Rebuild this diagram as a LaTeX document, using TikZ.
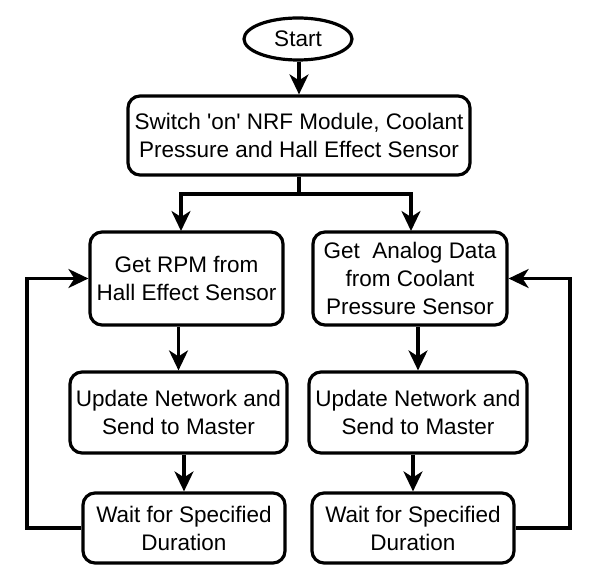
\documentclass[tikz,border=0pt]{standalone}
\usepackage{fontspec}
\setmainfont{Liberation Sans}
\usetikzlibrary{shapes.geometric,arrows.meta}
\begin{document}
\begin{tikzpicture}[x=1pt,y=-1pt,
  every node/.style={font=\fontsize{22.5}{28}\selectfont, align=center, inner sep=0pt},
  procbox/.style={draw, line width=3.2pt, rounded corners=12pt},
  startnode/.style={draw, ellipse, line width=3.2pt},
  conn/.style={line width=3.2pt},
  arr/.style={conn, -{Stealth[length=20pt,width=19pt,inset=6pt]}}]
\useasboundingbox[fill=white] (0,0) rectangle (592,580);
\node[startnode, minimum width=108pt, minimum height=42pt] (start) at (298,39) {Start};
\node[procbox, minimum width=342pt, minimum height=79pt] (b1) at (299,135.5) {Switch \textquotesingle on\textquotesingle\ NRF Module, Coolant\\Pressure and Hall Effect Sensor};
\node[procbox, minimum width=193pt, minimum height=93pt] (l1) at (186.5,278.5) {Get RPM from\\Hall Effect Sensor};
\node[procbox, minimum width=194pt, minimum height=93pt] (r1) at (410,278.5) {Get\ \ Analog Data\\from Coolant\\Pressure Sensor};
\node[procbox, minimum width=217pt, minimum height=81pt] (l2) at (178.5,412.5) {Update Network and\\Send to Master};
\node[procbox, minimum width=218pt, minimum height=81pt] (r2) at (418,412.5) {Update Network and\\Send to Master};
\node[procbox, minimum width=202pt, minimum height=70pt] (l3) at (184,528) {Wait for Specified\\Duration};
\node[procbox, minimum width=202pt, minimum height=70pt] (r3) at (413,528) {Wait for Specified\\Duration};
\coordinate (br) at (299,194);
\coordinate (lt) at (181,231);
\coordinate (rt) at (411,231);
\coordinate (lx) at (27,0);
\coordinate (rx) at (570,0);
\draw[arr] (start.south -| b1.north) -- (b1.north);
\draw[conn] (b1.south) -- (br);
\draw[arr] (br) -| (lt);
\draw[arr] (br) -| (rt);
\draw[arr] (l1.south -| l2.north) -- (l2.north);
\draw[arr] (r1.south -| r2.north) -- (r2.north);
\draw[arr] (l2.south -| l3.north) -- (l3.north);
\draw[arr] (r2.south -| r3.north) -- (r3.north);
\draw[arr] (l3.west) -- (l3.west -| lx) |- (l1.west);
\draw[arr] (r3.east) -- (r3.east -| rx) |- (r1.east);
\end{tikzpicture}
\end{document}
